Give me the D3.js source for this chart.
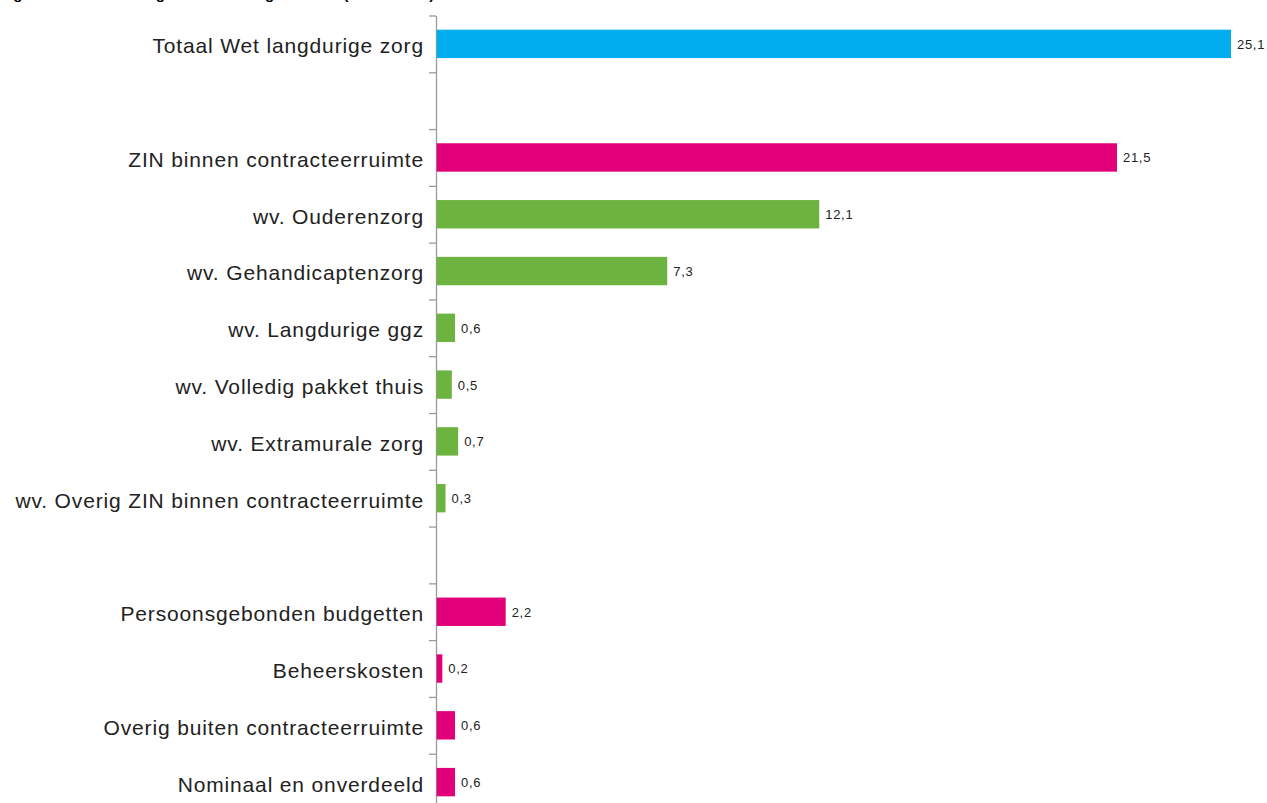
<!DOCTYPE html>
<html>
<head>
<meta charset="utf-8">
<script src="https://cdn.jsdelivr.net/npm/d3@7"></script>
<style>
  html, body { margin: 0; padding: 0; background: #ffffff; }
  svg { display: block; }
</style>
</head>
<body>
<svg id="chart" width="1267" height="803"></svg>
<script>
// Uitgaven Wet langdurige zorg per categorie (mld euro)
const categories = [
  "Totaal Wet langdurige zorg",
  "",
  "ZIN binnen contracteerruimte",
  "wv. Ouderenzorg",
  "wv. Gehandicaptenzorg",
  "wv. Langdurige ggz",
  "wv. Volledig pakket thuis",
  "wv. Extramurale zorg",
  "wv. Overig ZIN binnen contracteerruimte",
  "",
  "Persoonsgebonden budgetten",
  "Beheerskosten",
  "Overig buiten contracteerruimte",
  "Nominaal en onverdeeld"
];
const values = [25.1, null, 21.5, 12.1, 7.3, 0.6, 0.5, 0.7, 0.3, null, 2.2, 0.2, 0.6, 0.6];
const groups = ["totaal", null, "zin", "wv", "wv", "wv", "wv", "wv", "wv", null, "overig", "overig", "overig", "overig"];
const valueLabels = ["25,1", "", "21,5", "12,1", "7,3", "0,6", "0,5", "0,7", "0,3", "", "2,2", "0,2", "0,6", "0,6"];
const titleText = "Figuur 1 Samenstelling Wlz naar categorie 2019 (in mld euro)";

const colors = { totaal: "#00aeef", zin: "#e2007a", wv: "#6db33f", overig: "#e2007a" };

const svg = d3.select("#chart");
const axisX = 436;
const plotTop = 15.5, plotBottom = 810.5;
const labelFont = "'Liberation Sans', Arial, sans-serif";

const rows = categories.map((c, i) => ({ key: i, label: c, value: values[i], group: groups[i], text: valueLabels[i] }));

const y = d3.scaleBand()
  .domain(rows.map(d => d.key))
  .range([plotTop, plotBottom])
  .paddingInner(0.5)
  .paddingOuter(0.25);

const x = d3.scaleLinear().domain([0, 25.1]).range([axisX, 1231]);

// Title (partly above the visible area)
svg.append("text")
  .attr("x", 0)
  .attr("y", -1)
  .attr("font-family", labelFont)
  .attr("font-size", 15)
  .attr("font-weight", "bold")
  .attr("fill", "#000")
  .text(titleText);

// Row boundary ticks on the vertical axis
const rowIndex = d3.scaleLinear().domain([0, categories.length]).range([plotTop, plotBottom]);
const axisG = svg.append("g")
  .attr("transform", `translate(${axisX},0)`)
  .call(d3.axisLeft(rowIndex)
    .tickValues(d3.range(0, categories.length + 1))
    .tickFormat("")
    .tickSize(7)
    .tickSizeOuter(0));
axisG.select(".domain").attr("stroke", "#9a9a9a").attr("stroke-width", 1.3);
axisG.selectAll(".tick line").attr("stroke", "#9a9a9a").attr("stroke-width", 1.3);

const data = rows.filter(d => d.value != null);

// Bars
svg.append("g").selectAll("rect")
  .data(data)
  .join("rect")
  .attr("x", x(0) + 0.7)
  .attr("y", d => y(d.key))
  .attr("width", d => x(d.value) - x(0) - 0.7)
  .attr("height", y.bandwidth())
  .attr("fill", d => colors[d.group]);

// Value labels
svg.append("g").selectAll("text")
  .data(data)
  .join("text")
  .attr("x", d => x(d.value) + 6)
  .attr("y", d => y(d.key) + y.bandwidth() / 2)
  .attr("dy", "0.38em")
  .attr("font-family", labelFont)
  .attr("font-size", 13)
  .attr("letter-spacing", 0.7)
  .attr("fill", "#222")
  .text(d => d.text);

// Category labels
svg.append("g").selectAll("text")
  .data(rows.filter(d => d.label))
  .join("text")
  .attr("x", 424)
  .attr("y", d => y(d.key) + y.bandwidth() / 2)
  .attr("dy", "0.45em")
  .attr("text-anchor", "end")
  .attr("font-family", labelFont)
  .attr("font-size", 21)
  .attr("letter-spacing", 0.85)
  .attr("fill", "#222")
  .text(d => d.label);
</script>
</body>
</html>
